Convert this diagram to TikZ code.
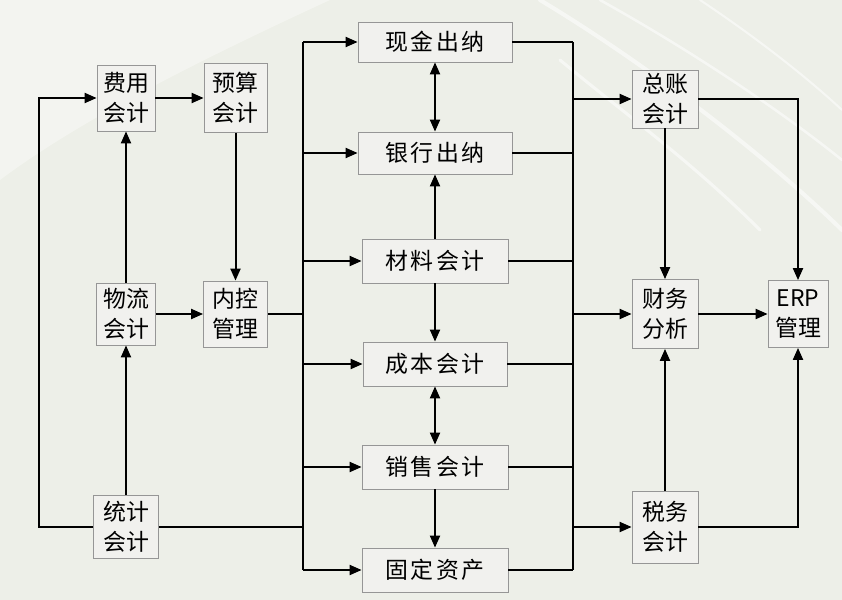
\documentclass[tikz,border=0pt]{standalone}
\usepackage{fontspec}
\setmainfont{Noto Sans CJK SC}
\usetikzlibrary{arrows.meta}
\definecolor{bgc}{RGB}{237,239,232}
\definecolor{boxfill}{RGB}{241,241,238}
\definecolor{boxline}{RGB}{150,150,150}
\newcommand\gp{\hspace{2.5bp}}
\begin{document}
\begin{tikzpicture}[x=1bp,y=-1bp,
  box/.style={draw=boxline, fill=boxfill, line width=0.8bp, inner sep=0pt,
    align=center, font=\fontsize{23}{30}\selectfont},
  ln/.style={line width=2bp, black},
  arr/.style={ln, -{Triangle[length=12bp,width=10bp]}},
  darr/.style={ln, {Triangle[length=12bp,width=10bp]}-{Triangle[length=12bp,width=10bp]}},
  streak/.style={white, opacity=0.55, line cap=round}]
% background
\fill[bgc] (0,0) rectangle (842,600);
\useasboundingbox (0,0) rectangle (842,600);
\fill[white, opacity=0.35] (0,0) -- (330,0) .. controls (200,60) and (80,120) .. (0,180) -- cycle;
\draw[streak, line width=4bp] (540,0) .. controls (640,60) and (760,150) .. (842,230);
\draw[streak, line width=2.5bp] (600,0) .. controls (690,50) and (780,110) .. (842,160);
\draw[streak, line width=3bp] (560,60) .. controls (620,110) and (690,160) .. (760,230);
\draw[streak, line width=2bp] (700,0) .. controls (760,40) and (810,80) .. (842,110);
% left column
\node[box, minimum width=58bp, minimum height=66bp] (fy) at (126,98) {费用\\会计};
\node[box, minimum width=63bp, minimum height=69bp] (ys) at (235.5,98) {预算\\会计};
\node[box, minimum width=59bp, minimum height=62bp] (wl) at (126,314) {物流\\会计};
\node[box, minimum width=64bp, minimum height=66bp] (nk) at (235.5,314) {内控\\管理};
\node[box, minimum width=65bp, minimum height=63bp] (tj) at (126,526.5) {统计\\会计};
% middle column
\node[box, minimum width=154bp, minimum height=40bp] (xj) at (435,42) {现\gp 金\gp 出\gp 纳};
\node[box, minimum width=154bp, minimum height=42bp] (yh) at (435,153) {银\gp 行\gp 出\gp 纳};
\node[box, minimum width=146bp, minimum height=44bp] (cl) at (435,261) {材\gp 料\gp 会\gp 计};
\node[box, minimum width=144bp, minimum height=44bp] (cb) at (435,364) {成\gp 本\gp 会\gp 计};
\node[box, minimum width=146bp, minimum height=44bp] (xs) at (435,467) {销\gp 售\gp 会\gp 计};
\node[box, minimum width=146bp, minimum height=44bp] (gd) at (435,570) {固\gp 定\gp 资\gp 产};
% right column
\node[box, minimum width=66bp, minimum height=58bp] (zz) at (665,99) {总账\\会计};
\node[box, minimum width=66bp, minimum height=69bp] (cw) at (665,314) {财务\\分析};
\node[box, minimum width=60bp, minimum height=67bp] (erp) at (798,314) {ERP\\管理};
\node[box, minimum width=66bp, minimum height=72bp] (sw) at (665,527) {税务\\会计};
% bus coordinates
\coordinate (lbT) at (303,42);
\coordinate (lbB) at (303,570);
\coordinate (rbT) at (573,42);
\coordinate (rbB) at (573,570);
% left part connectors
\draw[arr] (tj.west) -- ++(-54,0) |- (fy.west);
\draw[arr] (wl) -- (fy);
\draw[arr] (tj) -- (wl);
\draw[arr] (fy) -- (ys);
\draw[arr] (ys) -- (nk);
\draw[arr] (wl) -- (nk);
\draw[ln] (nk.east) -- (nk.east -| lbT);
\draw[ln] (tj.east) -- (tj.east -| lbT);
% left bus
\draw[ln] (lbT) -- (lbB);
\foreach \n in {xj,yh,cl,cb,xs,gd}{
  \draw[arr] (\n.west -| lbT) -- (\n.west);
  \draw[ln] (\n.east) -- (\n.east -| rbT);
}
% right bus
\draw[ln] (rbT) -- (rbB);
\draw[arr] (zz.west -| rbT) -- (zz.west);
\draw[arr] (cw.west -| rbT) -- (cw.west);
\draw[arr] (sw.west -| rbT) -- (sw.west);
% middle verticals
\draw[darr] (xj) -- (yh);
\draw[arr] (cl) -- (yh);
\draw[arr] (cl) -- (cb);
\draw[darr] (cb) -- (xs);
\draw[arr] (xs) -- (gd);
% right connectors
\draw[arr] (zz) -- (cw);
\draw[arr] (sw) -- (cw);
\draw[arr] (cw) -- (erp);
\draw[arr] (zz.east) -| (erp.north);
\draw[arr] (sw.east) -| (erp.south);
\end{tikzpicture}
\end{document}
